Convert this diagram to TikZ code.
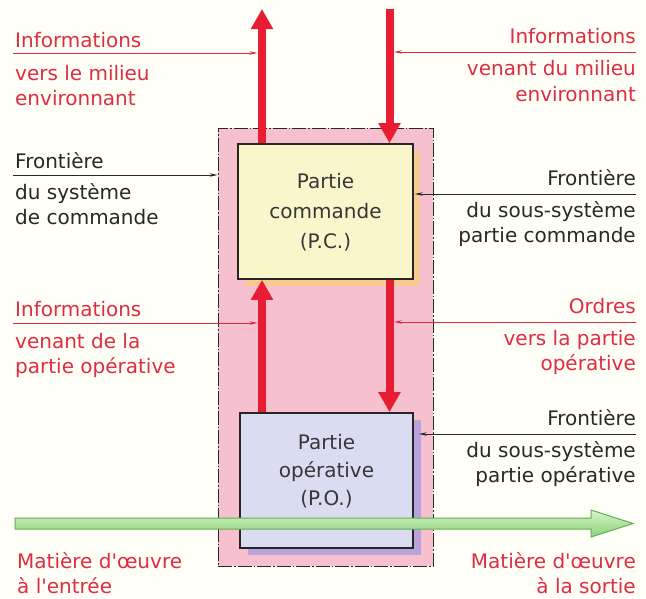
\documentclass[tikz,border=0pt]{standalone}
\usepackage{fontspec}
\setmainfont{DejaVu Sans}[Ligatures=TeXOff]
\usetikzlibrary{arrows.meta}
\definecolor{labred}{RGB}{222,45,65}
\definecolor{labblack}{RGB}{40,40,40}
\definecolor{bigred}{RGB}{232,28,50}
\definecolor{pinkfill}{RGB}{246,192,206}
\definecolor{pcfill}{RGB}{250,246,204}
\definecolor{pofill}{RGB}{218,220,242}
\definecolor{pcshadow}{RGB}{250,205,130}
\definecolor{poshadow}{RGB}{180,160,222}
\definecolor{greenedge}{RGB}{95,175,85}
\definecolor{greentop}{RGB}{215,245,200}
\definecolor{greenbot}{RGB}{140,210,120}
\definecolor{boxtxt}{RGB}{55,55,55}
\tikzset{
  lab/.style={inner sep=0pt, font=\fontsize{20}{24}\selectfont},
  redlab/.style={lab, text=labred},
  blacklab/.style={lab, text=labblack},
  sysbox/.style={draw=labblack, fill=pinkfill, line width=0.8pt,
    dash pattern=on 14pt off 2pt on 1.5pt off 2pt, inner sep=0pt,
    minimum width=215pt, minimum height=438pt},
  pcbox/.style={draw=black!85, fill=pcfill, line width=1.6pt, inner sep=0pt,
    minimum width=175pt, minimum height=135pt},
  pobox/.style={draw=black!85, fill=pofill, line width=1.6pt, inner sep=0pt,
    minimum width=173pt, minimum height=135pt},
  boxtext/.style={inner sep=0pt, align=center, text=boxtxt},
  bigarrow/.style={draw=bigred, line width=8pt,
    -{Triangle[width=21pt,length=20pt]}},
  redline/.style={draw=labred, line width=0.8pt, -{Stealth[length=8pt,width=3.5pt]}},
  blackline/.style={draw=labblack, line width=0.8pt, -{Stealth[length=8pt,width=3.5pt]}},
}
\begin{document}
\begin{tikzpicture}[x=1pt,y=-1pt]
\useasboundingbox (0,0) rectangle (646,598);
\fill[white!97!yellow] (0,0) rectangle (646,598);

% system boundary
\node[sysbox] (sys) at (325.5,347) {};

% shadows
\fill[pcshadow, opacity=0.8] (245,152) rectangle (420,286);
\fill[poshadow, opacity=0.9] (248,420) rectangle (421,555);

% boxes
\node[pcbox] (pc) at (325.5,211.5) {};
\node[pobox] (po) at (326.5,480.5) {};
\node[boxtext, font=\fontsize{20}{30}\selectfont] (pctext) at (325.5,212) {Partie\\commande\\(P.C.)};
\node[boxtext, font=\fontsize{20}{28}\selectfont] (potext) at (326.5,471) {Partie\\opérative\\(P.O.)};

% big red arrows
\coordinate (upend) at (262,9);
\coordinate (dnstart) at (389.5,9);
\draw[bigarrow] (pc.north -| upend) -- (upend);
\draw[bigarrow] (dnstart) -- (dnstart |- pc.north);
\draw[bigarrow] (po.north -| upend) -- (pc.south -| upend);
\draw[bigarrow] (pc.south -| dnstart) -- (po.north -| dnstart);

% left annotations
\node[redlab, anchor=base west] (li1) at (15,47) {Informations};
\node[redlab, anchor=base west] (li2) at (15,80) {vers le milieu};
\node[redlab, anchor=base west] (li3) at (15,105) {environnant};
\coordinate (li1s) at (13,53);
\draw[redline] (li1s) -- ([xshift=-4.5pt]upend |- li1s);

\node[blacklab, anchor=base west] (lf1) at (15,168) {Frontière};
\node[blacklab, anchor=base west] (lf2) at (15,199) {du système};
\node[blacklab, anchor=base west] (lf3) at (15,224) {de commande};
\coordinate (lf1s) at (13,175);
\draw[blackline] (lf1s) -- (sys.west |- lf1s);

\node[redlab, anchor=base west] (lo1) at (15,316) {Informations};
\node[redlab, anchor=base west] (lo2) at (15,348) {venant de la};
\node[redlab, anchor=base west] (lo3) at (15,373) {partie opérative};
\coordinate (lo1s) at (13,323);
\draw[redline] (lo1s) -- ([xshift=-4.5pt]upend |- lo1s);

% right annotations
\node[redlab, anchor=base east] (ri1) at (636,43) {Informations};
\node[redlab, anchor=base east] (ri2) at (636,75) {venant du milieu};
\node[redlab, anchor=base east] (ri3) at (636,101) {environnant};
\coordinate (ri1s) at (636,52);
\draw[redline] (ri1s) -- ([xshift=4.5pt]dnstart |- ri1s);

\node[blacklab, anchor=base east] (rf1) at (636,185) {Frontière};
\node[blacklab, anchor=base east] (rf2) at (636,217) {du sous-système};
\node[blacklab, anchor=base east] (rf3) at (636,242) {partie commande};
\coordinate (rf1s) at (636,194);
\draw[blackline] (rf1s) -- ([xshift=1pt]pc.east |- rf1s);

\node[redlab, anchor=base east] (ro1) at (636,313) {Ordres};
\node[redlab, anchor=base east] (ro2) at (636,345) {vers la partie};
\node[redlab, anchor=base east] (ro3) at (636,370) {opérative};
\coordinate (ro1s) at (636,322);
\draw[redline] (ro1s) -- ([xshift=4.5pt]dnstart |- ro1s);

\node[blacklab, anchor=base east] (rp1) at (636,425) {Frontière};
\node[blacklab, anchor=base east] (rp2) at (636,457) {du sous-système};
\node[blacklab, anchor=base east] (rp3) at (636,482) {partie opérative};
\coordinate (rp1s) at (636,434);
\draw[blackline] (rp1s) -- ([xshift=5pt]po.east |- rp1s);

% green flow arrow
\shade[top color=greentop, bottom color=greenbot, draw=greenedge, line width=1pt]
  (15,518) -- (591,518) -- (591,510) -- (633,523.5) -- (591,537) -- (591,529) -- (15,529) -- cycle;

% bottom labels
\node[redlab, anchor=base west] (mi1) at (17,568) {Matière d'œuvre};
\node[redlab, anchor=base west] (mi2) at (17,593) {à l'entrée};
\node[redlab, anchor=base east] (mo1) at (636,568) {Matière d'œuvre};
\node[redlab, anchor=base east] (mo2) at (636,593) {à la sortie};
\end{tikzpicture}
\end{document}
